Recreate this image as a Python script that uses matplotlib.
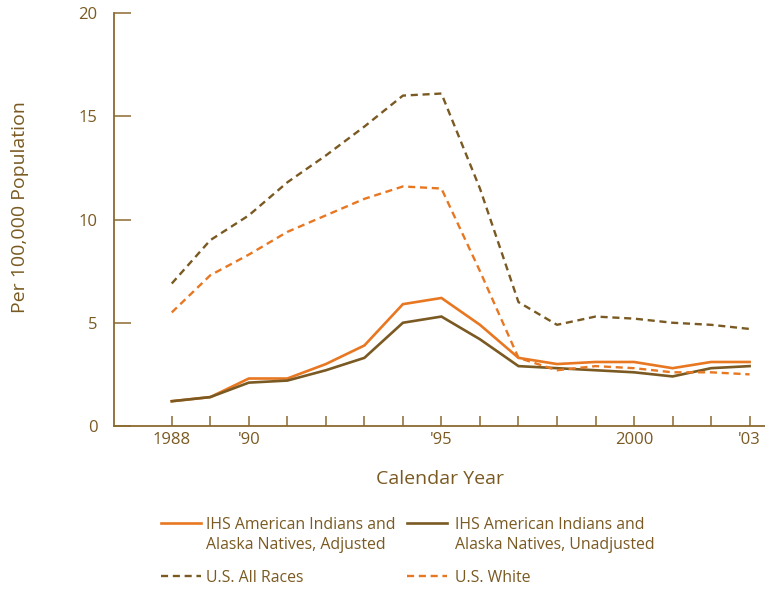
import matplotlib
matplotlib.use("Agg")
import matplotlib.pyplot as plt
from matplotlib.lines import Line2D

# Data (rate per 100,000 population)
years = list(range(1988, 2004))
ihs_adjusted = [1.2, 1.4, 2.3, 2.3, 3.0, 3.9, 5.9, 6.2, 4.9, 3.3, 3.0, 3.1, 3.1, 2.8, 3.1, 3.1]
ihs_unadjusted = [1.2, 1.4, 2.1, 2.2, 2.7, 3.3, 5.0, 5.3, 4.2, 2.9, 2.8, 2.7, 2.6, 2.4, 2.8, 2.9]
us_all_races = [6.9, 9.0, 10.2, 11.8, 13.1, 14.5, 16.0, 16.1, 11.5, 6.0, 4.9, 5.3, 5.2, 5.0, 4.9, 4.7]
us_white = [5.5, 7.3, 8.3, 9.4, 10.2, 11.0, 11.6, 11.5, 7.5, 3.3, 2.7, 2.9, 2.8, 2.6, 2.6, 2.5]

xtick_pos = [1988, 1990, 1995, 2000, 2003]
xtick_labels = ["1988", "'90", "'95", "2000", "'03"]
yticks = [0, 5, 10, 15, 20]

ORANGE = "#E87722"
BROWN = "#7A5A22"
AXIS = "#8C6A30"
TEXT = "#7A5A22"

W, H = 765, 589

plt.rcParams["font.family"] = ["Open Sans", "DejaVu Sans"]

fig = plt.figure(figsize=(W / 100, H / 100), dpi=100)
ax = fig.add_axes([114 / W, 1 - 426 / H, 651 / W, 413 / H])

series = [
    (ihs_adjusted, ORANGE, "solid", "IHS American Indians and\nAlaska Natives, Adjusted"),
    (ihs_unadjusted, BROWN, "solid", "IHS American Indians and\nAlaska Natives, Unadjusted"),
    (us_all_races, BROWN, "dashed", "U.S. All Races"),
    (us_white, ORANGE, "dashed", "U.S. White"),
]

for vals, col, style, lab in series:
    if style == "solid":
        ax.plot(years, vals, color=col, lw=1.9, solid_joinstyle="miter")
    else:
        ax.plot(years, vals, color=col, lw=1.7, dashes=(3, 2))

ax.set_xlim(1986.5, 2003.4)
ax.set_ylim(0, 20)

for side in ("top", "right"):
    ax.spines[side].set_visible(False)
for side in ("left", "bottom"):
    ax.spines[side].set_color(AXIS)
    ax.spines[side].set_linewidth(1.3)

ax.set_yticks(yticks)
ax.tick_params(axis="y", direction="in", length=12, width=1.1, color=AXIS,
               labelcolor=TEXT, labelsize=12, pad=12)
ax.set_xticks(years, minor=True)
ax.set_xticks(xtick_pos)
ax.set_xticklabels(xtick_labels)
ax.tick_params(axis="x", which="both", direction="in", length=7, width=1.1,
               color=AXIS, labelcolor=TEXT, labelsize=12, pad=4)

ax.set_xlabel("Calendar Year", color=TEXT, fontsize=14)
ax.set_ylabel("Per 100,000 Population", color=TEXT, fontsize=14)
ax.xaxis.set_label_coords(0.5, -0.107)
ax.yaxis.set_label_coords(-0.13, 0.53)

# legend laid out by hand: 2 columns, handle level with first text line
cols_x = [(161, 201, 206), (407, 447, 455)]
rows_y = [523, 576]
for i, (vals, col, style, lab) in enumerate(series):
    hx0, hx1, tx = cols_x[i % 2]
    y = rows_y[i // 2]
    ls = "-" if style == "solid" else (0, (3, 2))
    lw = 1.9 if style == "solid" else 1.7
    fig.add_artist(Line2D([hx0 / W, hx1 / W], [1 - y / H, 1 - y / H],
                          color=col, lw=lw, linestyle=ls,
                          transform=fig.transFigure))
    fig.text(tx / W, 1 - (y - 6) / H, lab, color=TEXT, fontsize=11.4,
             ha="left", va="top", linespacing=1.3)

fig.savefig("out.png", dpi=100)
